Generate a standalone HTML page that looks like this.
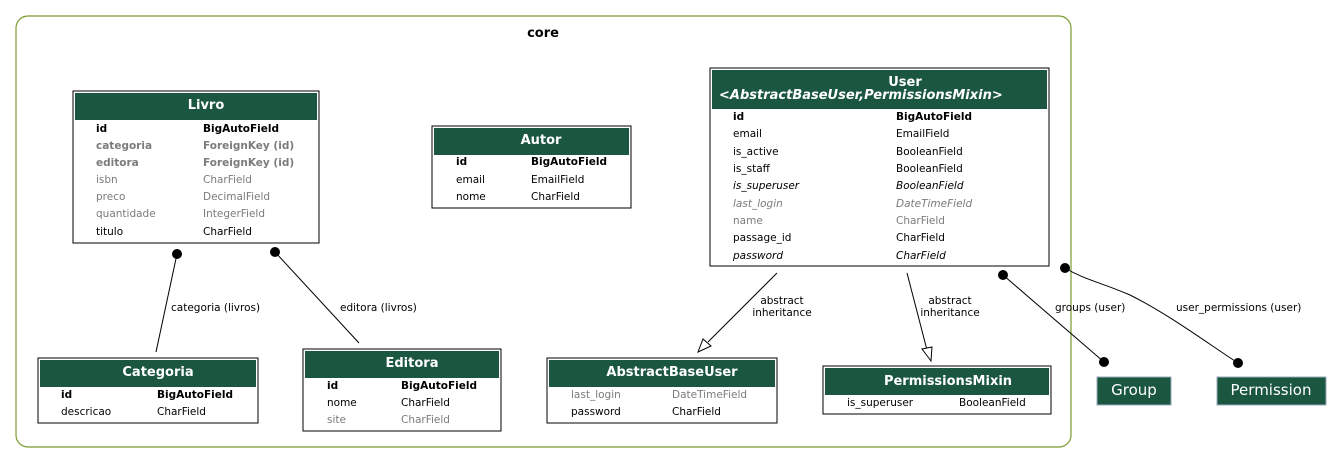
<!DOCTYPE html>
<html><head><meta charset="utf-8"><style>
html,body{margin:0;padding:0;background:#fff;}
svg{display:block;font-family:"DejaVu Sans","Liberation Sans",sans-serif;}
.t{font-size:10.5px;fill:#000;}
.g{fill:#7b7b7b;}
.b{font-weight:bold;}
.i{font-style:italic;}
.h{font-size:13px;font-weight:bold;fill:#fff;}
.l{font-size:10.5px;fill:#000;}
</style></head><body>
<svg width="1343" height="464" viewBox="0 0 1343 464">
<rect x="16" y="16" width="1055" height="431" rx="12" fill="#fff" stroke="#7a9a2e" stroke-width="1.2"/>
<text x="543" y="37" text-anchor="middle" style="font-size:13px;font-weight:bold">core</text>

<!-- Livro -->
<rect x="73" y="91" width="246" height="152" fill="#fff" stroke="#000"/>
<rect x="75" y="93" width="242" height="27" fill="#1b5641"/>
<text x="206" y="109" text-anchor="middle" class="h">Livro</text>
<g class="t">
<text x="96" y="132" class="t b">id</text><text x="203" y="132" class="t b">BigAutoField</text>
<text x="96" y="149" class="t b g">categoria</text><text x="203" y="149" class="t b g">ForeignKey (id)</text>
<text x="96" y="166" class="t b g">editora</text><text x="203" y="166" class="t b g">ForeignKey (id)</text>
<text x="96" y="183" class="t g">isbn</text><text x="203" y="183" class="t g">CharField</text>
<text x="96" y="200" class="t g">preco</text><text x="203" y="200" class="t g">DecimalField</text>
<text x="96" y="217" class="t g">quantidade</text><text x="203" y="217" class="t g">IntegerField</text>
<text x="96" y="235" class="t">titulo</text><text x="203" y="235" class="t">CharField</text>
</g>

<!-- Autor -->
<rect x="432" y="126" width="199" height="82" fill="#fff" stroke="#000"/>
<rect x="434" y="128" width="195" height="27" fill="#1b5641"/>
<text x="541" y="144" text-anchor="middle" class="h">Autor</text>
<text x="456" y="165" class="t b">id</text><text x="531" y="165" class="t b">BigAutoField</text>
<text x="456" y="183" class="t">email</text><text x="531" y="183" class="t">EmailField</text>
<text x="456" y="200" class="t">nome</text><text x="531" y="200" class="t">CharField</text>

<!-- User -->
<rect x="710" y="68" width="339" height="198" fill="#fff" stroke="#000"/>
<rect x="712" y="70" width="335" height="39" fill="#1b5641"/>
<text x="905" y="86" text-anchor="middle" class="h">User</text>
<text x="719" y="99" class="h i">&lt;AbstractBaseUser,PermissionsMixin&gt;</text>
<text x="733" y="120" class="t b">id</text><text x="896" y="120" class="t b">BigAutoField</text>
<text x="733" y="137" class="t">email</text><text x="896" y="137" class="t">EmailField</text>
<text x="733" y="155" class="t">is_active</text><text x="896" y="155" class="t">BooleanField</text>
<text x="733" y="172" class="t">is_staff</text><text x="896" y="172" class="t">BooleanField</text>
<text x="733" y="189" class="t i">is_superuser</text><text x="896" y="189" class="t i">BooleanField</text>
<text x="733" y="207" class="t i g">last_login</text><text x="896" y="207" class="t i g">DateTimeField</text>
<text x="733" y="224" class="t g">name</text><text x="896" y="224" class="t g">CharField</text>
<text x="733" y="241" class="t">passage_id</text><text x="896" y="241" class="t">CharField</text>
<text x="733" y="259" class="t i">password</text><text x="896" y="259" class="t i">CharField</text>

<!-- Categoria -->
<rect x="38" y="358" width="220" height="65" fill="#fff" stroke="#000"/>
<rect x="40" y="360" width="216" height="27" fill="#1b5641"/>
<text x="158" y="376" text-anchor="middle" class="h">Categoria</text>
<text x="61" y="398" class="t b">id</text><text x="157" y="398" class="t b">BigAutoField</text>
<text x="61" y="415" class="t">descricao</text><text x="157" y="415" class="t">CharField</text>

<!-- Editora -->
<rect x="303" y="349" width="198" height="82" fill="#fff" stroke="#000"/>
<rect x="305" y="351" width="194" height="27" fill="#1b5641"/>
<text x="412" y="367" text-anchor="middle" class="h">Editora</text>
<text x="327" y="389" class="t b">id</text><text x="401" y="389" class="t b">BigAutoField</text>
<text x="327" y="406" class="t">nome</text><text x="401" y="406" class="t">CharField</text>
<text x="327" y="423" class="t g">site</text><text x="401" y="423" class="t g">CharField</text>

<!-- AbstractBaseUser -->
<rect x="547" y="358" width="230" height="65" fill="#fff" stroke="#000"/>
<rect x="549" y="360" width="226" height="27" fill="#1b5641"/>
<text x="672" y="376" text-anchor="middle" class="h">AbstractBaseUser</text>
<text x="571" y="398" class="t g">last_login</text><text x="672" y="398" class="t g">DateTimeField</text>
<text x="571" y="415" class="t">password</text><text x="672" y="415" class="t">CharField</text>

<!-- PermissionsMixin -->
<rect x="823" y="366" width="228" height="48" fill="#fff" stroke="#000"/>
<rect x="825" y="368" width="224" height="27" fill="#1b5641"/>
<text x="948" y="385" text-anchor="middle" class="h">PermissionsMixin</text>
<text x="847" y="406" class="t">is_superuser</text><text x="959" y="406" class="t">BooleanField</text>

<!-- Group / Permission -->
<rect x="1097" y="377" width="74" height="28" fill="#1b5641" stroke="#9ab"/>
<text x="1134" y="395" text-anchor="middle" style="font-size:15px;fill:#fff">Group</text>
<rect x="1217" y="377" width="109" height="28" fill="#1b5641" stroke="#9ab"/>
<text x="1271" y="395" text-anchor="middle" style="font-size:15px;fill:#fff">Permission</text>

<!-- edges -->
<g stroke="#000" fill="none" stroke-width="1">
<line x1="177" y1="254" x2="156" y2="352"/>
<line x1="275" y1="252" x2="359" y2="343"/>
<line x1="777" y1="273" x2="708" y2="342"/>
<line x1="907" y1="273" x2="927" y2="350"/>
<line x1="1003" y1="275" x2="1104" y2="362"/>
<path d="M1065,268 C1085,280 1100,282 1130,295 C1170,315 1210,345 1238,363"/>
</g>
<g fill="#000">
<circle cx="177" cy="254" r="5"/>
<circle cx="275" cy="252" r="5"/>
<circle cx="1003" cy="275" r="5"/>
<circle cx="1104" cy="362" r="5"/>
<circle cx="1065" cy="268" r="5"/>
<circle cx="1238" cy="363" r="5"/>
</g>
<polygon points="698,352 703,339 711,346" fill="#fff" stroke="#000"/>
<polygon points="931,361 922,349 932,347" fill="#fff" stroke="#000"/>

<text x="171" y="311" class="l">categoria (livros)</text>
<text x="340" y="311" class="l">editora (livros)</text>
<text x="782" y="304" text-anchor="middle" class="l">abstract</text>
<text x="782" y="316" text-anchor="middle" class="l">inheritance</text>
<text x="950" y="304" text-anchor="middle" class="l">abstract</text>
<text x="950" y="316" text-anchor="middle" class="l">inheritance</text>
<text x="1055" y="311" class="l">groups (user)</text>
<text x="1176" y="311" class="l">user_permissions (user)</text>
</svg>
</body></html>
